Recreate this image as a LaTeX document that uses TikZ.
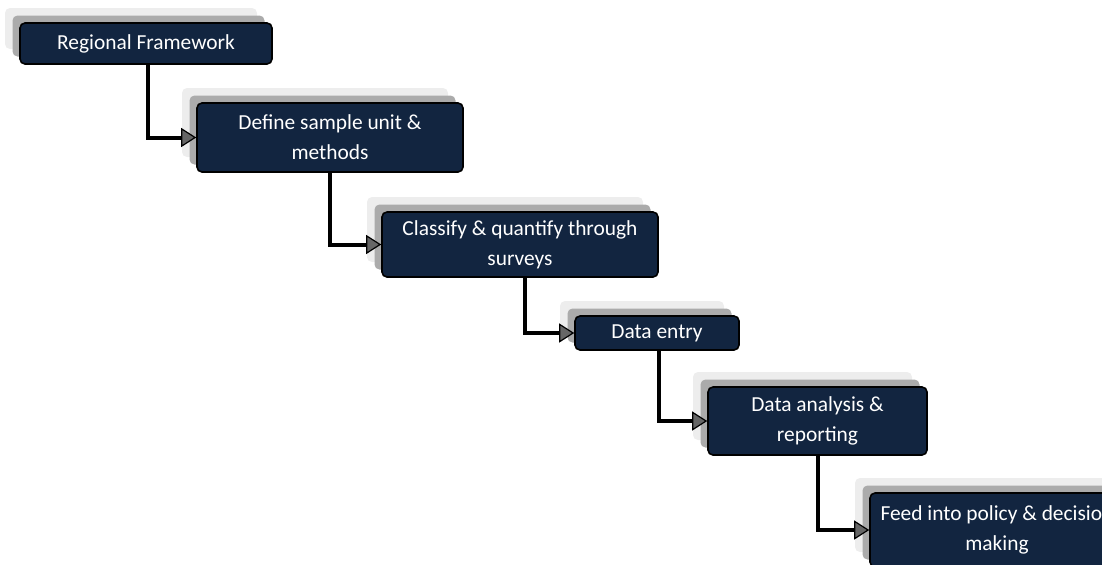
\documentclass[tikz,border=0pt]{standalone}
\usepackage{fontspec}
\setmainfont{Carlito}
\usetikzlibrary{arrows.meta,shadows}
\definecolor{boxnavy}{RGB}{18,37,64}

\begin{document}
\begin{tikzpicture}[x=0.5pt,y=-0.5pt,
  stage/.style = {draw=black, line width=0.8pt, fill=boxnavy,
    rounded corners=2.5pt, text=white, align=center, inner sep=0pt,
    font=\fontsize{10.7}{15}\selectfont,
    general shadow={fill=black!7, shadow xshift=-7.5pt, shadow yshift=7.5pt},
    general shadow={fill=black!33, shadow xshift=-3.75pt, shadow yshift=3.75pt}},
  flow/.style = {line width=2pt,
    -{Triangle[length=7.5pt,width=9.5pt,fill=black!60,line width=0.6pt]}}
  ]
  \useasboundingbox (0,0) rectangle (1102,564);
  \clip (0,0) rectangle (1102,564);

  \node[stage, minimum width=126pt, minimum height=20.5pt] (frame) at (146,43.5) {Regional Framework};
  \node[stage, minimum width=133pt, minimum height=34.5pt] (sample) at (330,137.5) {Define sample unit \&\\methods};
  \node[stage, minimum width=138pt, minimum height=32.5pt] (survey) at (520,244.5) {Classify \& quantify through\\surveys};
  \node[stage, minimum width=82pt, minimum height=17pt] (entry) at (657,333) {Data entry};
  \node[stage, minimum width=109.5pt, minimum height=34pt] (analysis) at (817.5,421) {Data analysis \&\\reporting};
  \node[stage, minimum width=127pt, minimum height=37pt] (policy) at (997,530) {Feed into policy \& decision\\making};

  % elbow connectors
  \draw[flow] ([xshift=1pt]frame.south) |- (sample.west);
  \draw[flow] (sample.south) |- (survey.west);
  \draw[flow] ([xshift=2.5pt]survey.south) |- (entry.west);
  \draw[flow] ([xshift=1pt]entry.south) |- (analysis.west);
  \draw[flow] (analysis.south) |- (policy.west);
\end{tikzpicture}
\end{document}
